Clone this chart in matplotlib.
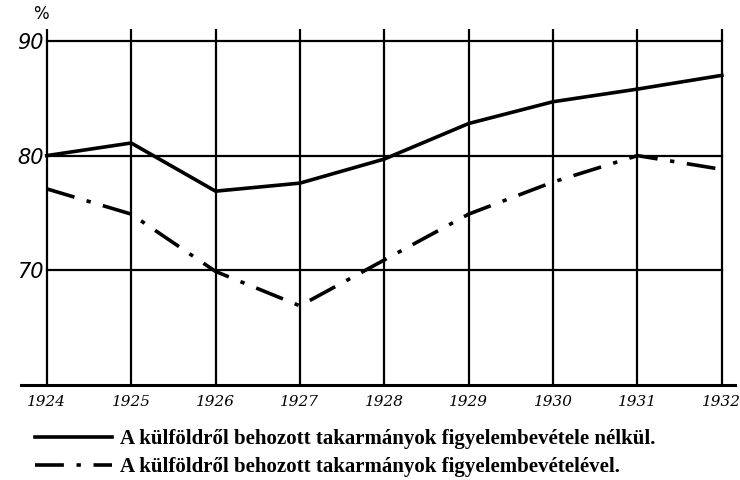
import matplotlib.pyplot as plt

years = [1924, 1925, 1926, 1927, 1928, 1929, 1930, 1931, 1932]
nelkul = [80.0, 81.1, 76.9, 77.6, 79.7, 82.8, 84.7, 85.8, 87.0]
vel = [77.1, 74.9, 69.9, 66.9, 70.9, 74.9, 77.7, 80.0, 78.8]
y_ticks = [70, 80, 90]
labels = ['A külföldről behozott takarmányok figyelembevétele nélkül.',
          'A külföldről behozott takarmányok figyelembevételével.']

fig = plt.figure(figsize=(7.4, 4.8), dpi=100)
ax = fig.add_axes([0.029, 0.198, 0.9636, 0.7406])
ax.set_xlim(1923.7, 1932.15)
ax.set_ylim(60, 91)

# racsvonalak
for yr in years:
    ax.plot([yr, yr], [60, 91], color='black', lw=1.6, zorder=1)
for t in y_ticks:
    ax.plot([years[0], years[-1]], [t, t], color='black', lw=1.6, zorder=1)

l1, = ax.plot(years, nelkul, color='black', lw=2.6, zorder=3)
l2, = ax.plot(years, vel, color='black', lw=2.6, ls=(0, (8, 3.5, 1.2, 3.5)), zorder=3)

for s in ['top', 'right', 'left']:
    ax.spines[s].set_visible(False)
ax.spines['bottom'].set_linewidth(2.2)

ax.set_xticks(years)
ax.set_xticklabels([str(y) for y in years], fontstyle='italic', family='DejaVu Serif', fontsize=11)
ax.set_yticks(y_ticks)
ax.set_yticklabels([str(t) for t in y_ticks], fontstyle='italic', family='DejaVu Sans', fontsize=15)
ax.tick_params(length=0, axis='x', pad=7)
ax.tick_params(length=0, axis='y', pad=-16)
for lab in ax.get_yticklabels():
    lab.set_horizontalalignment('right')
ax.text(1923.93, 91.6, '%', fontsize=12, ha='center', va='bottom', family='DejaVu Sans')

fig.legend([l1, l2], labels, loc='upper left', bbox_to_anchor=(0.033, 0.128),
           frameon=False, handlelength=3.7,
           prop={'family': 'Liberation Serif', 'size': 15, 'weight': 'bold'},
           labelspacing=0.4, handletextpad=0.4, borderpad=0)

fig.savefig('out.png', dpi=100)
